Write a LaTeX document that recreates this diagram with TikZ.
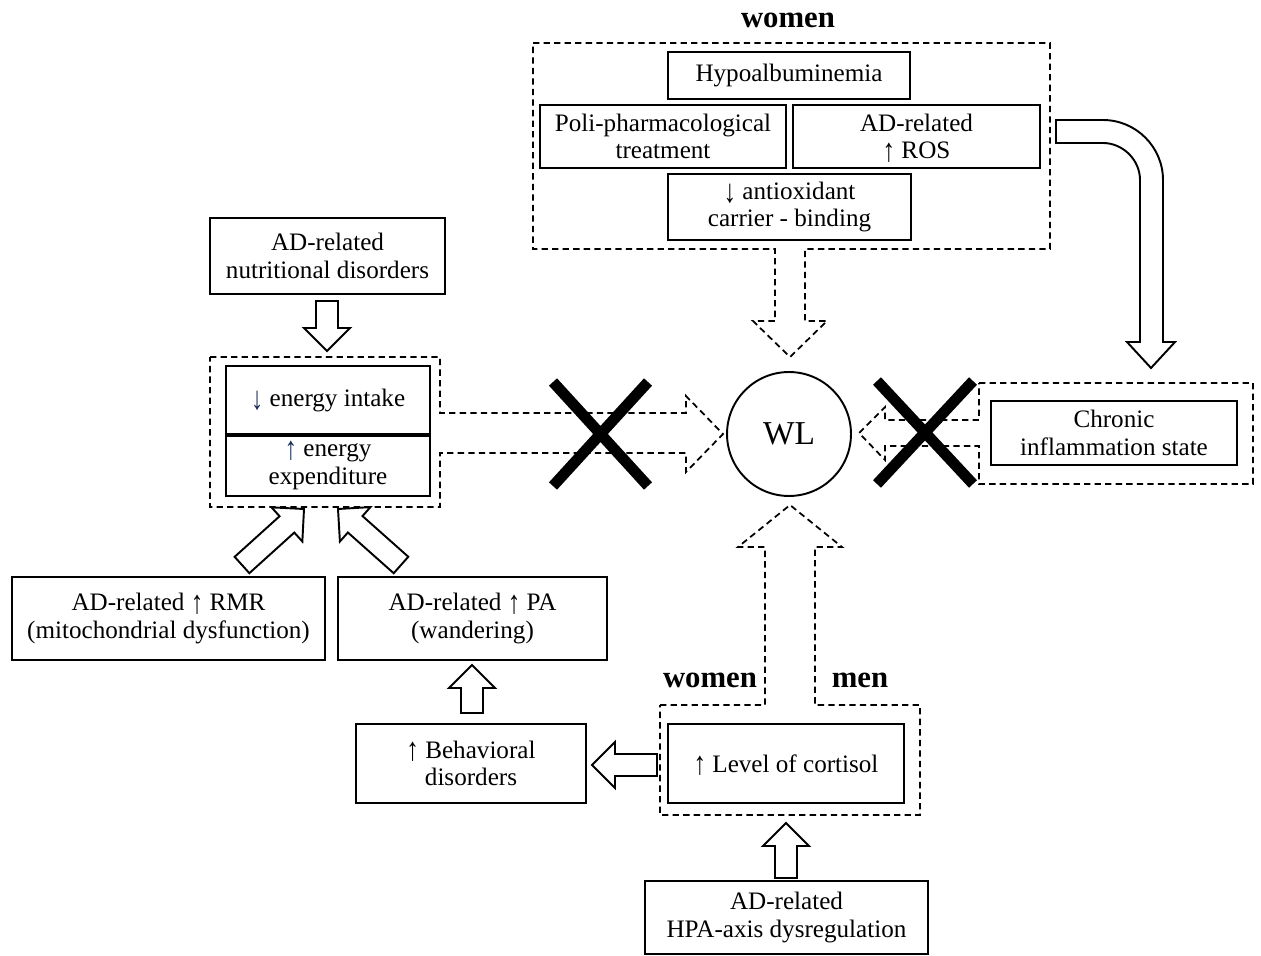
\documentclass[tikz,border=0pt]{standalone}
\usepackage{fontspec}
\setmainfont{Liberation Serif}
\usetikzlibrary{calc}

\definecolor{arrowblue}{RGB}{25,45,85}
\newcommand{\boxfont}{\fontsize{14.3}{15.5}\selectfont}
\newcommand{\upar}{\smash{\raisebox{-0.2ex}{\scalebox{1}[1.3]{↑}}}}
\newcommand{\dnar}{\smash{\raisebox{-0.3ex}{\scalebox{1}[1.3]{↓}}}}
% hollow block arrow from #1 to #2
\newcommand{\fatarrow}[2]{%
  \coordinate (fa-b) at ($(#2)!0.46cm!(#1)$);
  \draw[fat arrow] ($(#1)!0.22cm!90:(#2)$) -- ($(fa-b)!0.22cm!90:(#2)$)
    -- ($(fa-b)!0.46cm!90:(#2)$) -- (#2) -- ($(fa-b)!0.46cm!-90:(#2)$)
    -- ($(fa-b)!0.22cm!-90:(#2)$) -- ($(#1)!0.22cm!-90:(#2)$) -- cycle;}

\begin{document}
\begin{tikzpicture}[x=0.02cm,y=-0.02cm,
  box/.style={draw,line width=1.1pt,align=center,inner sep=0pt,font=\boxfont},
  group/.style={draw,line width=1pt,dash pattern=on 3.6pt off 2.4pt,line join=miter},
  fat arrow/.style={draw,line width=1.1pt,fill=white,line join=miter},
  sexlabel/.style={font=\fontsize{17.5}{18}\selectfont\bfseries},
  cross/.style={line width=6.2pt}]
\useasboundingbox (0,0) rectangle (1261,956);

% DASHED GROUPS WITH THEIR ARROWS
\draw[group] (533,43) -- (1050,43) -- (1050,249) -- (805,249) -- (805,321) -- (827,321)
  -- (790,357) -- (753,321) -- (775,321) -- (775,249) -- (533,249) -- cycle;
\draw[group] (210,357) -- (440,357) -- (440,413) -- (686,413) -- (686,396) -- (723,434)
  -- (686,472) -- (686,453) -- (440,453) -- (440,507) -- (210,507) -- cycle;
\draw[group] (979,383) -- (1253,383) -- (1253,484) -- (979,484) -- (979,446) -- (885,446)
  -- (885,460) -- (859,433) -- (885,407) -- (885,420) -- (979,420) -- cycle;
\draw[group] (660,705) -- (765,705) -- (765,547) -- (738,547) -- (790,505) -- (842,547)
  -- (815,547) -- (815,705) -- (920,705) -- (920,815) -- (660,815) -- cycle;

% BOXES
\node[box,minimum width=4.84cm,minimum height=0.94cm] (hypo) at (789,75.5) {Hypoalbuminemia};
\node[box,minimum width=4.92cm,minimum height=1.26cm] (poli) at (663,136.5) {Poli-pharmacological\\treatment};
\node[box,minimum width=4.94cm,minimum height=1.26cm] (ros) at (916.5,136.5) {AD-related\\\upar{} ROS};
\node[box,minimum width=4.86cm,minimum height=1.32cm] (antiox) at (789.5,207) {\dnar{} antioxidant\\carrier - binding};
\node[box,minimum width=4.70cm,minimum height=1.52cm] (nutr) at (327.5,256) {AD-related\\nutritional disorders};
\node[box,minimum width=4.08cm,minimum height=1.36cm] (intake) at (328,400) {{\color{arrowblue}\dnar} energy intake};
\node[box,minimum width=4.08cm,minimum height=1.24cm] (expend) at (328,465) {\strut{\color{arrowblue}\upar} energy\\expenditure\strut};
\draw[line width=2.6pt] (intake.south west) -- (intake.south east);
\node[draw,circle,line width=1.1pt,minimum size=2.48cm,inner sep=0pt,font=\fontsize{19}{20}\selectfont] (wl) at (789,434) {WL};
\node[box,minimum width=4.92cm,minimum height=1.28cm] (chronic) at (1114,433) {Chronic\\inflammation state};
\node[box,minimum width=6.26cm,minimum height=1.66cm] (rmr) at (168.5,618.5) {AD-related \upar{} RMR\\(mitochondrial dysfunction)};
\node[box,minimum width=5.38cm,minimum height=1.66cm] (pa) at (472.5,618.5) {AD-related \upar{} PA\\(wandering)};
\node[box,minimum width=4.60cm,minimum height=1.58cm] (behav) at (471,763.5) {\upar{} Behavioral\\disorders};
\node[box,minimum width=4.72cm,minimum height=1.58cm] (cortisol) at (786,763.5) {\upar{} Level of cortisol};
\node[box,minimum width=5.66cm,minimum height=1.46cm] (hpa) at (786.5,917.5) {AD-related\\HPA-axis dysregulation};

% LABELS
\node[sexlabel] (womentop) at (788,20) {women};
\node[sexlabel] (women) at (710,680) {women};
\node[sexlabel] (men) at (860,680) {men};

% SOLID BLOCK ARROWS
\coordinate (nutr-t) at (327,301); \coordinate (nutr-h) at (327,351);
\coordinate (rmr-t) at (242,565); \coordinate (rmr-h) at (304,509);
\coordinate (pa-t) at (401,565); \coordinate (pa-h) at (338,509);
\coordinate (beh-t) at (472,713); \coordinate (beh-h) at (472,665);
\coordinate (cor-t) at (657,765); \coordinate (cor-h) at (592,765);
\coordinate (hpa-t) at (786,878); \coordinate (hpa-h) at (786,823);
\fatarrow{nutr-t}{nutr-h}
\fatarrow{rmr-t}{rmr-h}
\fatarrow{pa-t}{pa-h}
\fatarrow{beh-t}{beh-h}
\fatarrow{cor-t}{cor-h}
\fatarrow{hpa-t}{hpa-h}
\draw[fat arrow] (1056,120) -- (1103,120) .. controls (1136,120) and (1163,147) .. (1163,180)
  -- (1163,342) -- (1175,342) -- (1151,368) -- (1127,342) -- (1140,342) -- (1140,180)
  .. controls (1140,160) and (1123,143) .. (1103,143) -- (1056,143) -- cycle;

% CROSSES
\draw[cross] (553,382) -- (648,486) (553,486) -- (648,382);
\draw[cross] (877,381) -- (973,484) (877,484) -- (973,381);
\end{tikzpicture}
\end{document}
